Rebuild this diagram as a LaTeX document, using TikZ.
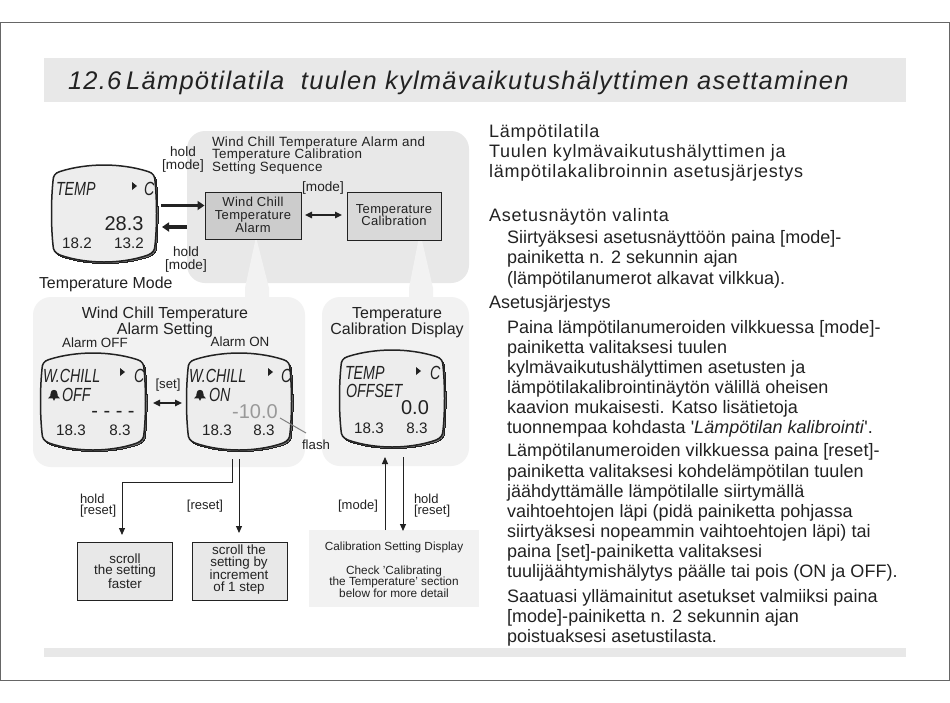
\documentclass[tikz,border=0pt]{standalone}
\usepackage{fontspec}
\setmainfont{Liberation Sans}
\newfontfamily\bodyfont[LetterSpace=.2]{Liberation Sans}
\newfontfamily\headfont[LetterSpace=4.3]{Liberation Sans}
\newfontfamily\titlefont[LetterSpace=4.9]{Liberation Sans}
\newfontfamily\boxfont[LetterSpace=2.5]{Liberation Sans}
\usetikzlibrary{arrows.meta}
\definecolor{inkgray}{HTML}{222222}
\definecolor{bandgray}{HTML}{E8E8E8}
\definecolor{panelgray}{HTML}{F2F2F2}
\definecolor{boxgray}{HTML}{CCCCCC}
\definecolor{lcdgray}{HTML}{EDEDED}
\tikzset{
  plain/.style={inner sep=0pt,outer sep=0pt,text=inkgray},
  bodyline/.style={plain,anchor=base west,font=\bodyfont\fontsize{18}{20}\selectfont},
  headline/.style={plain,anchor=base west,font=\headfont\fontsize{18}{20}\selectfont},
  lab/.style={plain,align=center,font=\fontsize{13.2}{13}\selectfont},
  caption/.style={plain,align=center,font=\fontsize{16}{16}\selectfont},
  boxtxt/.style={plain,align=center,font=\boxfont\fontsize{13}{12.8}\selectfont},
  stepbox/.style={draw=inkgray,line width=1pt,fill=bandgray},
  panel/.style={rounded corners=18pt},
  lcdword/.style={plain,anchor=base west,xscale=.75,font=\itshape\fontsize{19}{19}\selectfont},
  lcdbig/.style={plain,font=\fontsize{20}{20}\selectfont},
  lcdsmall/.style={plain,font=\fontsize{15.2}{15}\selectfont},
  flow/.style={draw=inkgray,line width=1pt,-{Triangle[length=7pt,width=6pt]}},
  fatflow/.style={draw=inkgray,line width=3.2pt,-{Triangle[length=7pt,width=9pt]}},
  bothflow/.style={draw=inkgray,line width=1.5pt,{Triangle[length=7pt,width=6.5pt]}-{Triangle[length=7pt,width=6.5pt]}},
  lcdbody/.pic={
    \foreach \shade/\off/\wid in {black!55/1.6/0pt,lcdgray/0/1.5pt}{
      \path[fill=\shade,draw=inkgray,line width=\wid,xshift=\off pt,yshift=-\off pt]
      (8,6.5) .. controls (22,2) and (38,0) .. (52,0) .. controls (66,0) and (82,2) .. (96,6.5)
      .. controls (101,8) and (103,11) .. (103,16) .. controls (105,35) and (105,62) .. (103,80)
      .. controls (103,85) and (101,88) .. (96,90) .. controls (82,95) and (66,97) .. (52,97)
      .. controls (38,97) and (22,95) .. (8,90) .. controls (3,88) and (1,85) .. (1,80)
      .. controls (-1,62) and (-1,35) .. (1,16) .. controls (1,11) and (3,8) .. (8,6.5) -- cycle;
    }
  },
  marker/.pic={\fill[inkgray] (-2,-4) -- (3,0) -- (-2,4) -- cycle;},
  bell/.pic={\fill[inkgray,scale=.85] (-7,4) .. controls (-4,2) and (-4,0) .. (-4,-2) .. controls (-4,-5) and (-2,-6) .. (0,-6)
    .. controls (2,-6) and (4,-5) .. (4,-2) .. controls (4,0) and (4,2) .. (7,4) -- (1.5,4) -- (0,7) -- (-1.5,4) -- cycle;}
}
\begin{document}
\begin{tikzpicture}[x=1pt,y=-1pt]
\path[use as bounding box] (0,0) rectangle (950,702);
\path[fill=white] (0,0) rectangle (950,702);
\draw[black!60,line width=.8pt] (.5,22) rectangle (949.5,680);
\path[fill=bandgray] (44,58) rectangle (906,102);
\path[fill=bandgray] (44,648) rectangle (906,657);
\node[plain,anchor=base west,font=\itshape\titlefont\fontsize{25.5}{30}\selectfont] (titleline) at (68,89) {12.6\hspace{-3.5pt} Lämpötilatila\ \ tuulen kylmävaikutushälyttimen asettaminen};

\path[fill=bandgray,panel] (187,131) rectangle (469,283);
\path[fill=panelgray,panel] (33,297) rectangle (305,467);
\path[fill=panelgray,panel] (322,297) rectangle (469,466);
\path[fill=panelgray] (256,237) -- (245,288) -- (245,300) -- (269,300) -- (269,288) -- cycle;
\path[fill=panelgray] (420,232) -- (409,288) -- (409,300) -- (433,300) -- (433,288) -- cycle;

\node[stepbox,fill=boxgray,minimum width=96pt,minimum height=47pt] (alarmbox) at (253,215.5) {};
\node[stepbox,fill=boxgray!75!white,minimum width=94pt,minimum height=48pt] (calibbox) at (394,216) {};
\node[boxtxt] (alarmtext) at (253,215) {Wind Chill\\Temperature\\Alarm};
\node[boxtxt] (calibtext) at (394,215) {Temperature\\Calibration};
\node[plain,anchor=west,align=left,font=\boxfont\fontsize{13.4}{12.5}\selectfont] (seqtitle) at (212,155.5) {Wind Chill Temperature Alarm and\\Temperature Calibration\\Setting Sequence};
\node[lab,font=\fontsize{13.6}{13}\selectfont] (modeswitch) at (323,188) {[mode]};
\coordinate (swleft) at (305,215);
\coordinate (swright) at (342,215);
\draw[bothflow] (swleft) -- (swright);

\pic at (52,165) {lcdbody};
\node[lcdword] (tempword) at (56,195) {TEMP};
\pic at (134,186) {marker};
\node[lcdword] (tempunit) at (144,195) {C};
\node[lcdbig] (tempvalue) at (124,224) {28.3};
\node[lcdsmall] (tempone) at (77,243) {18.2};
\node[lcdsmall] (temptwo) at (129,243) {13.2};
\node[plain,anchor=base west,font=\fontsize{15.9}{16}\selectfont] (tempmode) at (39,288) {Temperature Mode};
\node[lab,font=\fontsize{13.6}{13}\selectfont] (holdup) at (183,159) {hold\\{[mode]}};
\node[lab,font=\fontsize{13.6}{13}\selectfont] (holddown) at (186,259) {hold\\{[mode]}};
\coordinate (fatstart) at (161,205.5);
\coordinate (fatback) at (187,227);
\coordinate (fatend) at (162,227);
\draw[fatflow] (fatstart) -- (fatstart -| alarmbox.west);
\draw[fatflow] (fatback) -- (fatend);

\node[caption] (alarmtitle) at (165,322) {Wind Chill Temperature\\Alarm Setting};
\node[lab,font=\fontsize{13.4}{13}\selectfont] (alarmoff) at (95,343) {Alarm OFF};
\node[lab,font=\fontsize{13.4}{13}\selectfont] (alarmon) at (240,342) {Alarm ON};

\pic at (41,353) {lcdbody};
\node[lcdword] (chillword) at (43,382) {W.CHILL};
\pic at (122,372) {marker};
\node[lcdword] (chillunit) at (134,382) {C};
\pic at (54,395) {bell};
\node[lcdword] (chilloff) at (62,401) {OFF};
\node[lcdbig] (dashes) at (113,414) {- - - -};
\node[lcdsmall] (offone) at (71,430) {18.3};
\node[lcdsmall] (offtwo) at (120,430) {8.3};

\pic at (187,353) {lcdbody};
\node[lcdword] (onword) at (189,382) {W.CHILL};
\pic at (270,372) {marker};
\node[lcdword] (onunit) at (281,382) {C};
\pic at (200,395) {bell};
\node[lcdword] (chillon) at (209,401) {ON};
\node[lcdbig,text=black!40] (flashvalue) at (255,412) {-10.0};
\node[lcdsmall] (onone) at (217,430) {18.3};
\node[lcdsmall] (ontwo) at (264,430) {8.3};

\node[lab] (setlabel) at (168,385) {[set]};
\coordinate (setleft) at (153,403);
\coordinate (setright) at (182,403);
\draw[bothflow] (setleft) -- (setright);
\node[lab] (flashlabel) at (316,445) {flash};
\coordinate (flashtip) at (280,418);
\coordinate (flashend) at (306,433);
\draw[black!50,line width=1pt] (flashtip) -- (flashend);

\node[caption] (calibtitle) at (397,323) {Temperature\\Calibration Display};
\pic at (340,350) {lcdbody};
\node[lcdword] (offsetword) at (345,379) {TEMP};
\pic at (418,371) {marker};
\node[lcdword] (offsetunit) at (430,379) {C};
\node[lcdword] (offsetname) at (346,397) {OFFSET};
\node[lcdbig] (offsetvalue) at (415,408) {0.0};
\node[lcdsmall] (offsetone) at (369,428) {18.3};
\node[lcdsmall] (offsettwo) at (417,428) {8.3};

\node[stepbox,minimum width=95pt,minimum height=58pt] (fastbox) at (124.5,571) {};
\node[stepbox,minimum width=95pt,minimum height=58pt] (stepsbox) at (239.5,571) {};
\node[plain,align=center,font=\fontsize{13.4}{11.6}\selectfont] (fasttext) at (125,571) {scroll\\the setting\\faster};
\node[plain,align=center,font=\fontsize{13.4}{11.6}\selectfont] (stepstext) at (239,569.5) {scroll the\\setting by\\increment\\of 1 step};
\path[fill=panelgray] (309,530) rectangle (479,607);
\node[plain,minimum width=170pt,minimum height=77pt] (calibnote) at (394,568.5) {};
\node[lab,font=\fontsize{11.8}{11.6}\selectfont] (notehead) at (394,547) {Calibration Setting Display};
\node[lab,font=\fontsize{11.8}{11.6}\selectfont] (notebody) at (394,581.5) {Check 'Calibrating\\the Temperature' section\\below for more detail};

\coordinate (fastfork) at (232,459);
\coordinate (stepfork) at (239,459);
\coordinate (fastcorner) at (122,482);
\coordinate (fasttip) at (122,535);
\coordinate (steptip) at (239,533);
\draw[flow] (fastfork) -- (fastfork |- fastcorner) -- (fastcorner) -- (fasttip);
\draw[flow] (stepfork) -- (steptip);
\node[lab,anchor=north west,align=left,font=\fontsize{13}{11.5}\selectfont] (holdfast) at (80,494) {hold\\{[reset]}};
\node[lab,font=\fontsize{13}{12}\selectfont] (resetlabel) at (205,506) {[reset]};
\coordinate (modetop) at (385,457);
\coordinate (resettop) at (403,457);
\draw[flow] (calibnote.north -| modetop) -- (modetop);
\draw[flow] (resettop) -- ([yshift=-1pt]calibnote.north -| resettop);
\node[lab,font=\fontsize{13}{12}\selectfont] (modelabel) at (358,506) {[mode]};
\node[lab,anchor=north west,align=left,font=\fontsize{13}{11.5}\selectfont] (holdreset) at (414,494) {hold\\{[reset]}};

\node[headline] (lineA) at (489,137) {Lämpötilatila};
\node[headline] (lineB) at (489,157) {Tuulen kylmävaikutushälyttimen ja};
\node[headline] (lineC) at (489,177) {lämpötilakalibroinnin asetusjärjestys};
\node[headline] (lineD) at (489,221) {Asetusnäytön valinta};
\node[bodyline] (lineE) at (507,243) {Siirtyäksesi asetusnäyttöön paina [mode]-};
\node[bodyline] (lineF) at (507,263) {painiketta n. 2 sekunnin ajan};
\node[bodyline] (lineG) at (507,284) {(lämpötilanumerot alkavat vilkkua).};
\node[bodyline] (lineH) at (489,308) {Asetusjärjestys};
\node[bodyline] (lineI) at (507,333) {Paina lämpötilanumeroiden vilkkuessa [mode]-};
\node[bodyline] (lineJ) at (507,353) {painiketta valitaksesi tuulen};
\node[bodyline] (lineK) at (507,373) {kylmävaikutushälyttimen asetusten ja};
\node[bodyline] (lineL) at (507,393) {lämpötilakalibrointinäytön välillä oheisen};
\node[bodyline] (lineM) at (507,413) {kaavion mukaisesti. Katso lisätietoja};
\node[bodyline] (lineN) at (507,433) {tuonnempaa kohdasta '\textit{Lämpötilan kalibrointi}'.};
\node[bodyline] (lineO) at (507,456) {Lämpötilanumeroiden vilkkuessa paina [reset]-};
\node[bodyline] (lineP) at (507,477) {painiketta valitaksesi kohdelämpötilan tuulen};
\node[bodyline] (lineQ) at (507,497) {jäähdyttämälle lämpötilalle siirtymällä};
\node[bodyline] (lineR) at (507,517) {vaihtoehtojen läpi (pidä painiketta pohjassa};
\node[bodyline] (lineS) at (507,537) {siirtyäksesi nopeammin vaihtoehtojen läpi) tai};
\node[bodyline] (lineT) at (507,557) {paina [set]-painiketta valitaksesi};
\node[bodyline] (lineU) at (507,577) {tuulijäähtymishälytys päälle tai pois (ON ja OFF).};
\node[bodyline] (lineV) at (507,602) {Saatuasi yllämainitut asetukset valmiiksi paina};
\node[bodyline] (lineW) at (507,622) {[mode]-painiketta n. 2 sekunnin ajan};
\node[bodyline] (lineX) at (507,642) {poistuaksesi asetustilasta.};
\end{tikzpicture}
\end{document}
